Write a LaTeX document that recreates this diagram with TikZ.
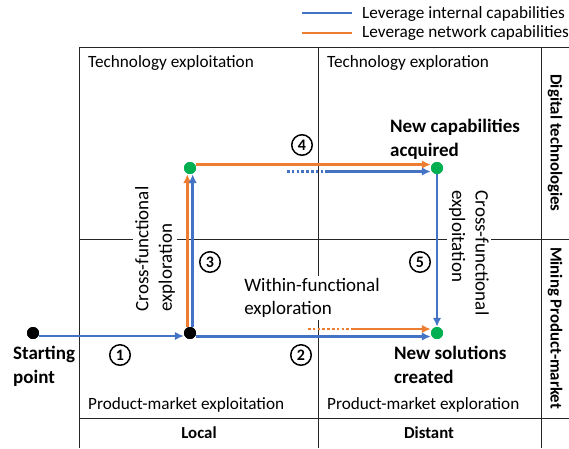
\documentclass[tikz,border=0pt]{standalone}
\usepackage{fontspec}
\setmainfont{Carlito}
\usetikzlibrary{arrows.meta,calc}
\definecolor{cblue}{HTML}{4472C4}
\definecolor{corange}{HTML}{ED7D31}
\definecolor{cgreen}{HTML}{00B050}
\begin{document}
\begin{tikzpicture}[x=1pt,y=-1pt,
  grid/.style={draw=black!85, line width=0.8pt},
  quad/.style={font=\fontsize{17.2}{20}\selectfont, anchor=west, inner sep=0},
  axislab/.style={font=\bfseries\fontsize{16.8}{20}\selectfont, inner sep=0},
  bigbold/.style={font=\bfseries\fontsize{19}{24}\selectfont, align=left, inner sep=0, anchor=west},
  note/.style={font=\fontsize{19}{23.5}\selectfont, align=left, fill=white, inner sep=2pt},
  dotb/.style={circle, fill=black, inner sep=0, minimum size=12pt},
  dotg/.style={circle, fill=cgreen, inner sep=0, minimum size=12pt},
  num/.style={circle, draw, line width=1.5pt, inner sep=0, minimum size=20.5pt, font=\bfseries\fontsize{16}{16}\selectfont},
  blu/.style={draw=cblue, line width=2.8pt},
  ora/.style={draw=corange, line width=2.8pt},
  tip/.style={-{Latex[length=9pt,width=8.5pt]}},
  dots/.style={dash pattern=on 2.6pt off 2.2pt}
]
\useasboundingbox (0,0) rectangle (569,448);
% grid
\draw[grid] (79,47) -- (569,47);
\draw[grid] (79,47) -- (79,448);
\draw[grid] (318,47) -- (318,448);
\draw[grid] (541,47) -- (541,448);
\draw[grid] (79,239) -- (569,239);
\draw[grid] (79,418) -- (569,418);
% legend
\coordinate (l1a) at (302,13); \coordinate (l1b) at (352,13);
\coordinate (l2a) at (302,33); \coordinate (l2b) at (352,33);
\draw[blu] (l1a) -- (l1b);
\draw[ora] (l2a) -- (l2b);
\node[quad] (leg1) at (362,14) {Leverage internal capabilities};
\node[quad] (leg2) at (362,33) {Leverage network capabilities};
% quadrant labels
\node[quad] (q1) at (88,63) {Technology exploitation};
\node[quad] (q2) at (327,63) {Technology exploration};
\node[quad] (q3) at (88,405) {Product-market exploitation};
\node[quad] (q4) at (327,405) {Product-market exploration};
\node[axislab, rotate=-90] (dt) at (555,143) {Digital technologies};
\node[axislab, rotate=-90] (mp) at (555,328) {Mining Product-market};
\node[axislab] (loc) at (199,433) {Local};
\node[axislab] (dis) at (429,433) {Distant};
% notes
\node[note, rotate=90] (cfe) at (155,249) {Cross-functional\\exploration};
\node[note, rotate=-90] (cfx) at (469,253) {Cross-functional\\exploitation};
\node[note] (wfe) at (312,298) {Within-functional\\exploration};
\node[bigbold] (nca) at (390,139) {New capabilities\\acquired};
\node[bigbold] (nsc) at (394,365) {New solutions\\created};
\node[bigbold] (sp) at (13,366) {Starting\\point};
% numbers
\node[num] (n1) at (120,355) {1};
\node[num] (n2) at (301,355) {2};
\node[num] (n3) at (210,262) {3};
\node[num] (n4) at (302,145) {4};
\node[num] (n5) at (420,262) {5};
% dots
\node[dotb] (s) at (33,333) {};
\node[dotb] (b) at (190,333) {};
\node[dotg] (g1) at (190,168) {};
\node[dotg] (g2) at (437,168) {};
\node[dotg] (g3) at (437,333) {};
% arrows
\draw[blu,tip] ($(s.east)+(0,3)$) -- ($(b.west)+(0,3)$);
\draw[blu,tip] ($(b.east)+(0,3.5)$) -- ($(g3.west)+(0,3.5)$);
\coordinate (o2a) at (308,329); \coordinate (o2b) at (354,329);
\draw[ora,dots] (o2a) -- (o2b);
\draw[ora,tip] (o2b) -- (g3.west |- o2b);
\draw[ora,tip] ($(b.north)+(-2.7,0)$) -- ($(g1.south)+(-2.7,0)$);
\draw[blu,tip] ($(b.north)+(2.7,0)$) -- ($(g1.south)+(2.7,0)$);
\draw[ora,tip] ($(g1.east)+(0,-3.5)$) -- ($(g2.west)+(0,-3.5)$);
\coordinate (b4a) at (287,171.5); \coordinate (b4b) at (327,171.5);
\draw[blu,dots] (b4a) -- (b4b);
\draw[blu,tip] (b4b) -- (g2.west |- b4b);
\draw[blu,tip] (g2.south) -- (g3.north);
% dots on top
\node[dotb] at (s) {};
\node[dotb] at (b) {};
\node[dotg] at (g1) {};
\node[dotg] at (g2) {};
\node[dotg] at (g3) {};
\end{tikzpicture}
\end{document}
